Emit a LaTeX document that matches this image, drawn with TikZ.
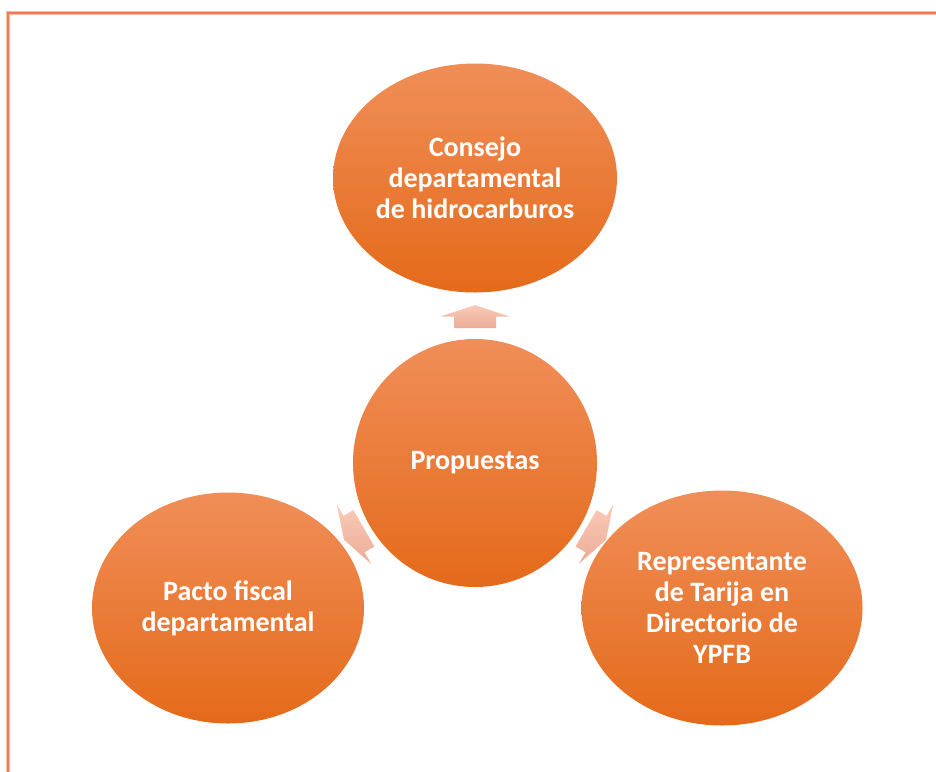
\documentclass[tikz,border=0pt]{standalone}
\usepackage{fontspec}
\setmainfont{Carlito}
\usetikzlibrary{shapes.geometric,calc,backgrounds}
\definecolor{frameline}{RGB}{240,120,84}
\definecolor{framehalo}{RGB}{248,190,170}
\definecolor{ovtop}{RGB}{240,142,88}
\definecolor{ovmid}{RGB}{244,127,46}
\definecolor{ovbot}{RGB}{228,106,26}
\definecolor{artop}{RGB}{249,203,184}
\definecolor{arbot}{RGB}{236,172,150}
\tikzset{
  bubble/.style={ellipse, inner sep=0pt, top color=ovtop, middle color=ovmid, bottom color=ovbot,
    text=white, align=center, font=\fontsize{28}{31}\selectfont\bfseries},
  blockarrow/.style={top color=artop, bottom color=arbot, draw=none}
}
\newcommand{\blockarr}[2]{%
  \begin{scope}[shift={(#1)}, rotate=#2]
    \path[blockarrow] (0,-11.5) -- (34.5,0) -- (21,0) -- (21,11.5) -- (-21,11.5) -- (-21,0) -- (-34.5,0) -- cycle;
  \end{scope}}
\begin{document}
\begin{tikzpicture}[x=1pt,y=-1pt]
\useasboundingbox (0,0) rectangle (936,771);
\begin{scope}
\clip (0,0) rectangle (936,771);
\draw[framehalo, line width=4pt] (8,13) rectangle (960,800);
\draw[frameline, line width=2.2pt] (8,13) rectangle (960,800);
\end{scope}
\node[bubble, minimum width=244pt, minimum height=248pt] (prop) at (475,463) {Propuestas};
\node[bubble, minimum width=284pt, minimum height=229pt] (cons) at (475,178) {Consejo\\departamental\\de hidrocarburos};
\node[bubble, minimum width=272pt, minimum height=231pt] (pacto) at (228,608) {Pacto fiscal\\departamental};
\node[bubble, minimum width=281pt, minimum height=235pt] (rep) at (722,608) {Representante\\de Tarija en\\Directorio de\\YPFB};
\begin{scope}[on background layer]
\coordinate (a1) at ($(prop)!0.514!(cons)$);
\coordinate (a2) at ($(prop)!0.49!(pacto)$);
\coordinate (a3) at ($(prop)!0.49!(rep)$);
\blockarr{a1}{0}
\blockarr{a2}{120}
\blockarr{a3}{-120}
\end{scope}
\end{tikzpicture}
\end{document}
